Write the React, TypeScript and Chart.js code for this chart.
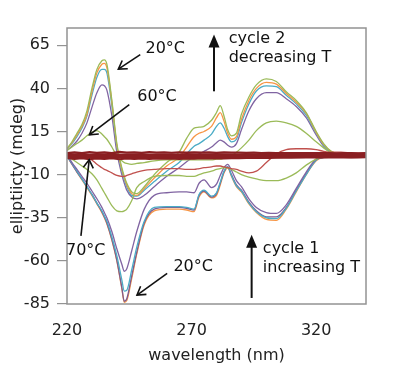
import React, { useEffect, useRef } from "react";
import { Chart, registerables } from "chart.js";

Chart.register(...registerables);

// wavelengths (nm) for the CD spectra
const W = [220, 222, 224, 226, 228, 230, 232, 234, 235, 236, 238, 240, 242, 243, 244, 246, 248, 251, 255, 260, 265, 268, 271, 273, 275, 278, 280, 281.5, 283, 284.5, 286, 288, 290, 293, 296, 300, 304, 308, 312, 316, 320, 323, 326, 330, 335, 340];

// cycle 2 (decreasing T) spectra
const C2_GREEN_20 = [5, 9, 14, 19, 27, 40, 51, 56, 56.5, 54, 33, 8, -6, -11, -15, -20, -21, -17, -10, -3, 3, 11, 17, 17.5, 18, 21.5, 26, 30, 24, 16, 12.5, 14, 25, 35, 42, 45.5, 44, 38, 33, 26, 15, 8, 3.5, 1.5, 1, 1];
const C2_ORANGE = [5, 8.5, 13, 18, 25, 38, 49, 54, 54.5, 52, 32, 7, -7, -12, -16, -21, -22, -18, -12, -5, 0, 6, 12, 14, 15, 18, 23, 26, 21, 14, 10.5, 12, 22, 33, 40, 43.5, 42.5, 37, 32, 25.5, 14.5, 7.5, 3.5, 1.5, 1, 1];
const C2_CYAN = [5, 8, 12, 17, 24, 36, 46.5, 51, 51, 49, 30, 6, -8, -13, -17, -22, -22.5, -19, -14, -8, -3, 2, 6.5, 8, 10, 13.5, 18, 20, 17, 12, 9, 10.5, 20, 31, 38.5, 41.5, 41, 36, 31, 24.5, 14, 7, 3, 1.5, 1, 1];
const C2_PURPLE = [4, 6.5, 9.5, 14, 20, 29, 37.5, 42, 41.5, 39, 24, 3, -10, -15, -19, -23, -24, -22, -17, -11, -6, -2.5, 0.5, 2, 3.5, 6, 8.5, 10, 9, 7, 6, 8, 16, 27, 34, 37.5, 37.5, 34, 29.5, 23, 13, 6.5, 3, 1.5, 1, 1];
const C2_GREEN_60 = [4, 6, 8, 10, 12.5, 14.5, 15.5, 13.5, 12, 10.5, 6, 1, -2, -3, -3.5, -4, -3.5, -3, -2, -1.5, -1.5, -1.5, -1.5, -1.5, -1.5, -1.5, -1, -1, -0.5, 0, 1, 3, 5.5, 10, 15.5, 20, 21, 20, 18, 14, 9, 5.5, 2.5, 1.5, 1, 1];

// cycle 1 (increasing T) spectra
const C1_ORANGE = [1, -4, -8.5, -13, -17.5, -22, -27, -32, -35, -38.5, -48, -60, -76, -84, -83, -70, -56, -39, -31, -30, -30, -30.5, -31.5, -23, -20, -23.5, -22, -16, -9, -6, -11, -17, -20, -27, -32, -36, -36.5, -30, -20, -10, -2, 0, 0.5, 0.5, 0.5, 0.5];
const C1_PURPLE_B = [1, -4, -8.5, -12.5, -17, -21.5, -26.5, -31.5, -34.5, -38, -47.5, -59.5, -75.5, -83.5, -82, -68.5, -55, -38, -30, -29, -29, -29.5, -30.5, -22, -19.5, -23, -21, -15, -8.5, -5.5, -10, -16, -19, -26, -31, -34.5, -34.5, -29, -19, -9.5, -1.5, 0, 0.5, 0.5, 0.5, 0.5];
const C1_CYAN = [1, -3.5, -8, -12.5, -17, -21.5, -26.5, -31, -34, -37, -46, -57, -71, -77.5, -77, -65, -52, -37, -29, -28.5, -28.5, -29, -30, -21.5, -19, -22.5, -20.5, -14.5, -8, -5.5, -10.5, -16.5, -19.5, -26.5, -31.5, -35, -35.5, -29.5, -19.5, -10, -1.5, 0, 0.5, 0.5, 0.5, 0.5];
const C1_PURPLE_A = [1.5, -3, -7, -11, -15, -19.5, -24, -29, -32, -35, -43, -53, -62, -66, -64.5, -54, -43, -30, -22, -20.5, -20, -20, -20.5, -15, -13, -17.5, -15.5, -10.5, -6, -4, -7.5, -13.5, -17, -24, -29, -32, -32.5, -27.5, -18, -8.5, -1, 0.5, 0.5, 0.5, 0.5, 0.5];
const C1_GREEN = [1, -1, -3, -5, -7, -9.5, -13, -18, -20.5, -23, -28, -31, -31.5, -31, -30, -25, -17.5, -14, -11, -10.5, -10.5, -11, -11, -10, -9, -8, -7, -6.5, -6, -6, -7, -8.5, -10, -11.5, -12.5, -13.5, -13.5, -12, -9, -4.5, -1, 0.5, 1.5, 1, 1, 1];
const C1_RED = [1, 1, 0.5, 0.5, 0, -1.5, -4, -6, -7, -7.5, -9, -10.5, -11, -11, -10.5, -9.5, -8.5, -7.5, -7, -6.5, -6.5, -7, -7, -6.5, -6, -5.5, -5, -5, -5.5, -6, -6.5, -7, -8, -9, -8, -3, 2, 4.5, 5, 5, 4.5, 3.5, 3, 3, 2.5, 2.5];

// high-temperature (unfolded) noisy traces forming the dark band
const BAND_W = [220, 223, 226, 229, 232, 235, 238, 241, 244, 247, 250, 253, 256, 259, 262, 265, 268, 271, 274, 277, 280, 283, 286, 289, 292, 295, 298, 301, 304, 307, 310, 313, 316, 319, 322, 325, 328, 331, 334, 337, 340];
const BAND_A = [2.6, 3.0, 2.6, 3.1, 2.7, 3.0, 2.6, 3.2, 2.8, 3.0, 2.7, 3.1, 2.8, 2.9, 2.7, 3.0, 2.8, 3.0, 2.8, 2.9, 2.7, 2.9, 2.8, 2.8, 2.7, 2.8, 2.6, 2.7, 2.6, 2.6, 2.5, 2.5, 2.6, 2.5, 2.5, 2.5, 2.4, 2.5, 2.5, 2.4, 2.5];
const BAND_B = [1.3, 1.0, 1.2, 0.8, 1.1, 0.9, 1.2, 0.8, 1.0, 0.9, 1.1, 0.8, 1.0, 0.9, 1.0, 0.8, 1.1, 0.9, 1.0, 1.0, 1.1, 0.9, 1.0, 1.0, 1.1, 1.0, 1.1, 1.1, 1.0, 1.1, 1.1, 1.0, 1.1, 1.1, 1.0, 1.1, 1.1, 1.1, 1.0, 1.1, 1.1];
const BAND_C = [-0.4, -0.9, -0.5, -1.1, -0.6, -1.0, -0.5, -1.1, -0.7, -0.9, -0.6, -1.0, -0.7, -0.8, -0.6, -0.9, -0.6, -0.8, -0.5, -0.7, -0.5, -0.6, -0.5, -0.5, -0.4, -0.4, -0.3, -0.3, -0.2, -0.2, -0.2, -0.1, -0.1, -0.1, 0, 0, 0, 0, 0.1, 0, 0.1];

// axes
const X_TICKS = [220, 270, 320];
const Y_TICKS = [-85, -60, -35, -10, 15, 40, 65];

// annotations (data coordinates)
const LABEL_TEXT = ["20°C", "60°C", "cycle 2", "decreasing T", "70°C", "20°C", "cycle 1", "increasing T"];
const LABEL_X = [251.5, 248.2, 284.9, 284.9, 219.6, 262.7, 298.6, 298.6];
const LABEL_Y = [63.1, 35.2, 68.9, 57.9, -54.2, -63.5, -53.1, -64.1];

const ARROW_X1 = [249.4, 245, 279, 225.6, 260.2, 294.1];
const ARROW_Y1 = [59.6, 30.6, 38.3, -45.5, -67.2, -81.5];
const ARROW_X2 = [240.6, 229, 279, 228.9, 248.1, 294.1];
const ARROW_Y2 = [51.2, 13.1, 71.2, -1.4, -79.8, -44.9];
const ARROW_FILLED = [false, false, true, false, false, true];

const FONT = "'DejaVu Sans', sans-serif";

function drawArrow(ctx: CanvasRenderingContext2D, x1: number, y1: number, x2: number, y2: number, filled: boolean) {
  const a = Math.atan2(y2 - y1, x2 - x1);
  const c = Math.cos(a), s = Math.sin(a);
  ctx.strokeStyle = "#111";
  ctx.fillStyle = "#111";
  if (filled) {
    const len = 13, w = 5.5;
    ctx.lineWidth = 2;
    ctx.beginPath();
    ctx.moveTo(x1, y1);
    ctx.lineTo(x2 - c * (len - 2), y2 - s * (len - 2));
    ctx.stroke();
    ctx.beginPath();
    ctx.moveTo(x2, y2);
    ctx.lineTo(x2 - c * len - s * w, y2 - s * len + c * w);
    ctx.lineTo(x2 - c * len + s * w, y2 - s * len - c * w);
    ctx.closePath();
    ctx.fill();
  } else {
    const len = 8, w = 5;
    ctx.lineWidth = 1.6;
    ctx.beginPath();
    ctx.moveTo(x1, y1);
    ctx.lineTo(x2, y2);
    ctx.stroke();
    ctx.beginPath();
    ctx.moveTo(x2 - c * len - s * w, y2 - s * len + c * w);
    ctx.lineTo(x2, y2);
    ctx.lineTo(x2 - c * len + s * w, y2 - s * len - c * w);
    ctx.stroke();
  }
}

const framePlugin = {
  id: "frameAndNotes",
  afterDatasetsDraw(chart: any) {
    const { ctx, chartArea: ca } = chart;
    ctx.save();
    ctx.strokeStyle = "#939393";
    ctx.lineWidth = 1.5;
    ctx.strokeRect(ca.left, ca.top, ca.right - ca.left, ca.bottom - ca.top);
    ctx.restore();
  },
  afterDraw(chart: any) {
    const { ctx } = chart;
    const xs = chart.scales.x, ys = chart.scales.y;
    ctx.save();
    ctx.fillStyle = "#111";
    ctx.font = `16px ${FONT}`;
    ctx.textAlign = "left";
    ctx.textBaseline = "middle";
    LABEL_TEXT.forEach((t, i) => {
      ctx.fillText(t, xs.getPixelForValue(LABEL_X[i]), ys.getPixelForValue(LABEL_Y[i]));
    });
    ARROW_X1.forEach((_, i) => {
      drawArrow(
        ctx,
        xs.getPixelForValue(ARROW_X1[i]),
        ys.getPixelForValue(ARROW_Y1[i]),
        xs.getPixelForValue(ARROW_X2[i]),
        ys.getPixelForValue(ARROW_Y2[i]),
        ARROW_FILLED[i]
      );
    });
    ctx.restore();
  },
};

function series(xs: number[], ys: number[], color: string, width: number, smooth = true) {
  return {
    data: xs.map((x, i) => ({ x, y: ys[i] })),
    borderColor: color,
    backgroundColor: color,
    borderWidth: width,
    pointRadius: 0,
    fill: false,
    tension: 0,
    cubicInterpolationMode: smooth ? ("monotone" as const) : ("default" as const),
  };
}

export default function App() {
  const ref = useRef<HTMLCanvasElement | null>(null);
  useEffect(() => {
    if (!ref.current) return;
    document.body.style.margin = "0";
    const BAND = "#8a1f22";
    const chart = new Chart(ref.current, {
      type: "line",
      data: {
        datasets: [
          series(BAND_W, BAND_A, BAND, 2, false),
          series(BAND_W, BAND_B, BAND, 5, false),
          series(BAND_W, BAND_C, BAND, 2, false),
          series(W, C1_RED, "#c0504d", 1.3),
          series(W, C2_GREEN_60, "#9bbb59", 1.3),
          series(W, C1_GREEN, "#9bbb59", 1.3),
          series(W, C2_GREEN_20, "#9bbb59", 1.3),
          series(W, C2_ORANGE, "#f79646", 1.3),
          series(W, C2_CYAN, "#4bacc6", 1.3),
          series(W, C2_PURPLE, "#8064a2", 1.3),
          series(W, C1_PURPLE_A, "#8064a2", 1.3),
          series(W, C1_CYAN, "#4bacc6", 1.3),
          series(W, C1_PURPLE_B, "#7d5a8e", 1.3),
          series(W, C1_ORANGE, "#f79646", 1.3),
        ],
      },
      options: {
        animation: false,
        responsive: false,
        layout: { padding: { top: 28, right: 34, left: 0, bottom: 0 } },
        plugins: { legend: { display: false }, tooltip: { enabled: false } },
        scales: {
          x: {
            type: "linear",
            min: 220,
            max: 340,
            afterBuildTicks: (s: any) => {
              s.ticks = X_TICKS.map((v) => ({ value: v }));
            },
            afterFit: (s: any) => {
              s.height = 66;
            },
            grid: { display: false },
            border: { display: false },
            ticks: { color: "#222", font: { family: FONT, size: 16 }, padding: 9, maxRotation: 0 },
            title: {
              display: true,
              text: "wavelength (nm)",
              color: "#222",
              font: { family: FONT, size: 16 },
              padding: { top: 0, bottom: 5 },
            },
          },
          y: {
            type: "linear",
            min: -85,
            max: 75,
            afterBuildTicks: (s: any) => {
              s.ticks = Y_TICKS.map((v) => ({ value: v }));
            },
            afterFit: (s: any) => {
              s.width = 67;
            },
            grid: { display: true, drawOnChartArea: false, drawTicks: true, tickLength: 10, color: "#939393", lineWidth: 1.2 },
            border: { display: false },
            ticks: { color: "#222", font: { family: FONT, size: 16 }, padding: 7 },
            title: {
              display: true,
              text: "elliptiicty (mdeg)",
              color: "#222",
              font: { family: FONT, size: 16 },
              padding: { top: 8, bottom: 0 },
            },
          },
        },
      },
      plugins: [framePlugin],
    });
    return () => chart.destroy();
  }, []);
  return (
    <div style={{ position: "fixed", left: 0, top: 0, width: 400, height: 370, background: "#fff" }}>
      <canvas ref={ref} width={400} height={370} style={{ display: "block" }} />
    </div>
  );
}
